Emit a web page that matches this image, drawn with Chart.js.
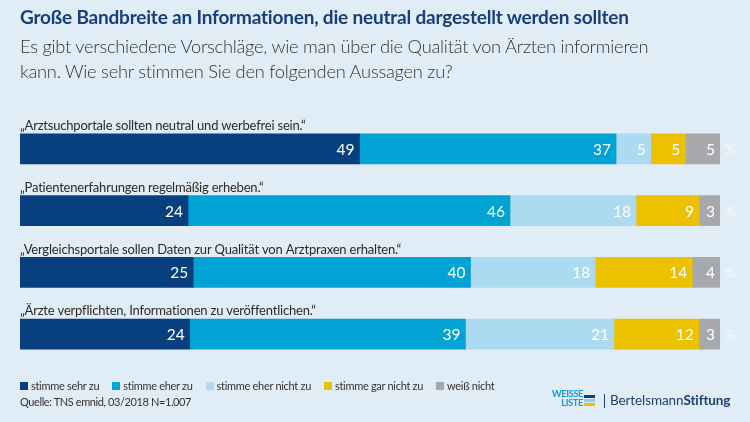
<!DOCTYPE html>
<html lang="de">
<head>
<meta charset="utf-8">
<script src="https://cdn.jsdelivr.net/npm/chart.js@4/dist/chart.umd.min.js"></script>
<style>
  html, body { margin:0; padding:0; }
  body { width:750px; height:422px; background:#e1edf6; position:relative; overflow:hidden; font-family: Lato, "Noto Sans", sans-serif; }
  #c { position:absolute; left:0; top:0; }
  .title { position:absolute; left:20px; top:5px; font-size:19px; font-weight:700; color:#163f7c; white-space:nowrap; letter-spacing:-0.2px; }
  .sub { position:absolute; left:20px; top:34px; font-size:18.3px; font-weight:300; color:#333; line-height:25px; letter-spacing:-0.25px; }
  #legend { position:absolute; left:20px; top:379px; font-size:11px; color:#333; white-space:nowrap; display:flex; letter-spacing:-0.3px; }
  #legend .item { display:flex; align-items:center; margin-right:13px; }
  #legend .box { width:8px; height:8px; margin-right:3px; }
  .src { position:absolute; left:20px; top:395px; font-size:11px; color:#333; white-space:nowrap; letter-spacing:-0.4px; }
  .wl { position:absolute; left:545px; top:389px; font-size:9.5px; font-weight:700; color:#1c9ad6; line-height:9px; text-align:right; width:38px; letter-spacing:-0.5px; }
  .wlbars { position:absolute; left:584px; top:395px; width:11px; }
  .wlbars div { height:2.5px; margin-bottom:1.5px; }
  .vsep { position:absolute; left:604px; top:394px; width:1px; height:14px; background:#1e3f72; }
  .bs { position:absolute; left:610px; top:392px; font-size:13.5px; color:#1e3f72; white-space:nowrap; letter-spacing:-0.1px; }
  .bs b { font-weight:700; }
</style>
</head>
<body>
<canvas id="c" width="750" height="422"></canvas>
<div class="title">Große Bandbreite an Informationen, die neutral dargestellt werden sollten</div>
<div class="sub">Es gibt verschiedene Vorschläge, wie man über die Qualität von Ärzten informieren<br>kann. Wie sehr stimmen Sie den folgenden Aussagen zu?</div>
<div id="legend"></div>
<div class="src">Quelle: TNS emnid, 03/2018 N=1.007</div>
<div class="wl">WEISSE<br>LISTE</div>
<div class="wlbars"><div style="background:#0a3f7f"></div><div style="background:#8fd0ee"></div><div style="background:#ecc100"></div></div>
<div class="vsep"></div>
<div class="bs">Bertelsmann<b>Stiftung</b></div>
<script>
const categories = [
  "„Arztsuchportale sollten neutral und werbefrei sein.“",
  "„Patientenerfahrungen regelmäßig erheben.“",
  "„Vergleichsportale sollen Daten zur Qualität von Arztpraxen erhalten.“",
  "„Ärzte verpflichten, Informationen zu veröffentlichen.“"
];
const seriesNames = ["stimme sehr zu", "stimme eher zu", "stimme eher nicht zu", "stimme gar nicht zu", "weiß nicht"];
const stimmeSehrZu      = [49, 24, 25, 24];
const stimmeEherZu      = [37, 46, 40, 39];
const stimmeEherNichtZu = [5, 18, 18, 21];
const stimmeGarNichtZu  = [5, 9, 14, 12];
const weissNicht        = [5, 3, 4, 3];
const seriesColors = ["#083f7f", "#00a3d4", "#acdaf0", "#ecc100", "#a6a8ab"];

const seriesValues = [stimmeSehrZu, stimmeEherZu, stimmeEherNichtZu, stimmeGarNichtZu, weissNicht];
// each row is drawn as a full-width (100 %) bar, as in the original graphic
const rowSums = categories.map((_, i) => seriesValues.reduce((s, arr) => s + arr[i], 0));

const datasets = seriesValues.map((arr, k) => ({
  label: seriesNames[k],
  data: arr.map((v, i) => v / rowSums[i] * 100),
  raw: arr,
  backgroundColor: seriesColors[k],
  borderWidth: 0,
  barThickness: 30,
  stack: "s"
}));

const labelPlugin = {
  id: "labels",
  afterDatasetsDraw(chart) {
    const ctx = chart.ctx;
    const area = chart.chartArea;
    ctx.save();
    ctx.textBaseline = "middle";
    chart.data.datasets.forEach((ds, k) => {
      const meta = chart.getDatasetMeta(k);
      meta.data.forEach((bar, i) => {
        ctx.fillStyle = "#ffffff";
        ctx.font = "15.5px Lato, 'Noto Sans', sans-serif";
        ctx.textAlign = "right";
        ctx.fillText(String(ds.raw[i]), bar.x - 5, bar.y + 1);
      });
    });
    const first = chart.getDatasetMeta(0);
    first.data.forEach((bar, i) => {
      ctx.fillStyle = "#f3f8fc";
      ctx.font = "15.5px Lato, 'Noto Sans', sans-serif";
      ctx.textAlign = "left";
      ctx.fillText("%", area.right + 4, bar.y + 1);
      ctx.fillStyle = "#2a2a2a";
      ctx.font = "13px Lato, 'Noto Sans', sans-serif";
      if ("letterSpacing" in ctx) ctx.letterSpacing = "-0.2px";
      ctx.fillText(chart.data.labels[i], area.left, bar.y - 23);
      if ("letterSpacing" in ctx) ctx.letterSpacing = "0px";
    });
    ctx.restore();
  }
};

const chart = new Chart(document.getElementById("c"), {
  type: "bar",
  data: { labels: categories, datasets },
  options: {
    indexAxis: "y",
    responsive: false,
    animation: false,
    layout: { padding: { left: 20, right: 30, top: 118, bottom: 57 } },
    scales: {
      x: { stacked: true, min: 0, max: 100, display: false },
      y: { stacked: true, display: false }
    },
    plugins: { legend: { display: false }, tooltip: { enabled: false } }
  },
  plugins: [labelPlugin]
});

const leg = document.getElementById("legend");
chart.data.datasets.forEach(ds => {
  const it = document.createElement("div");
  it.className = "item";
  const b = document.createElement("div");
  b.className = "box";
  b.style.background = ds.backgroundColor;
  const t = document.createElement("span");
  t.textContent = ds.label;
  it.appendChild(b); it.appendChild(t);
  leg.appendChild(it);
});
</script>
</body>
</html>
